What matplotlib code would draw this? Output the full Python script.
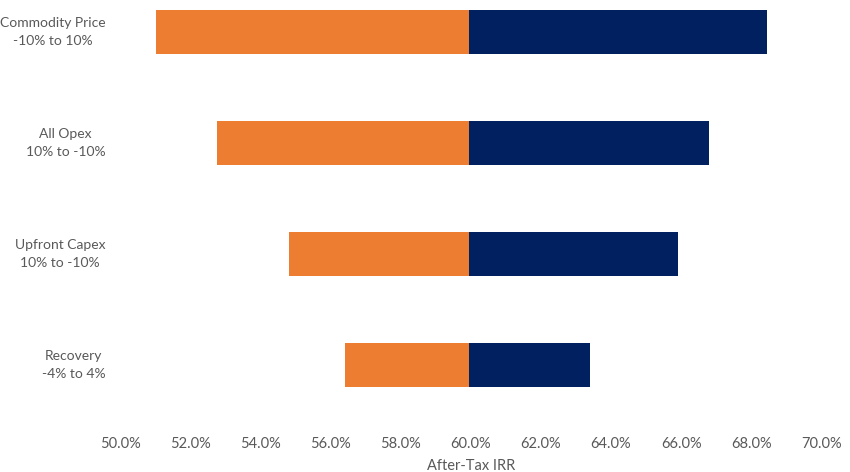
import numpy as np
import matplotlib
matplotlib.use('Agg')
import matplotlib.pyplot as plt

# tornado data: after-tax IRR (%) at low / high end of each driver
drivers = ['Commodity Price\n-10% to 10%', 'All Opex\n10% to -10%',
           'Upfront Capex\n10% to -10%', 'Recovery\n-4% to 4%']
irr_low = [51.0, 52.75, 54.8, 56.4]
irr_high = [68.45, 66.8, 65.9, 63.4]
base_irr = 59.95

xticks = [50, 52, 54, 56, 58, 60, 62, 64, 66, 68, 70]

plt.rcParams['font.family'] = ['Lato', 'DejaVu Sans']

fig = plt.figure(figsize=(8.5, 4.72), dpi=100)
ax = fig.add_axes([0.1418, 0.1097, 0.8244, 0.8903])

pos = np.arange(len(drivers))[::-1]
low = np.array(irr_low)
high = np.array(irr_high)

ax.barh(pos, low - base_irr, left=base_irr, height=0.4, color='#ED7D31')
ax.barh(pos, high - base_irr, left=base_irr, height=0.4, color='#002060')

ax.set_xlim(50, 70)
ax.set_ylim(-0.5, 3.287)
ax.set_xticks(xticks)
ax.set_xticklabels(['%.1f%%' % t for t in xticks])
ax.set_yticks(pos)
ax.set_yticklabels(drivers, multialignment='center', linespacing=1.6, va='center')

for s in ax.spines.values():
    s.set_visible(False)
ax.tick_params(axis='both', length=0, colors='#595959', labelsize=10.5)
ax.tick_params(axis='y', labelsize=10, pad=11)
ax.tick_params(axis='x', pad=12)
ax.set_xlabel('After-Tax IRR', color='#595959', fontsize=10.5, labelpad=6)

fig.savefig('out.png', dpi=100)
